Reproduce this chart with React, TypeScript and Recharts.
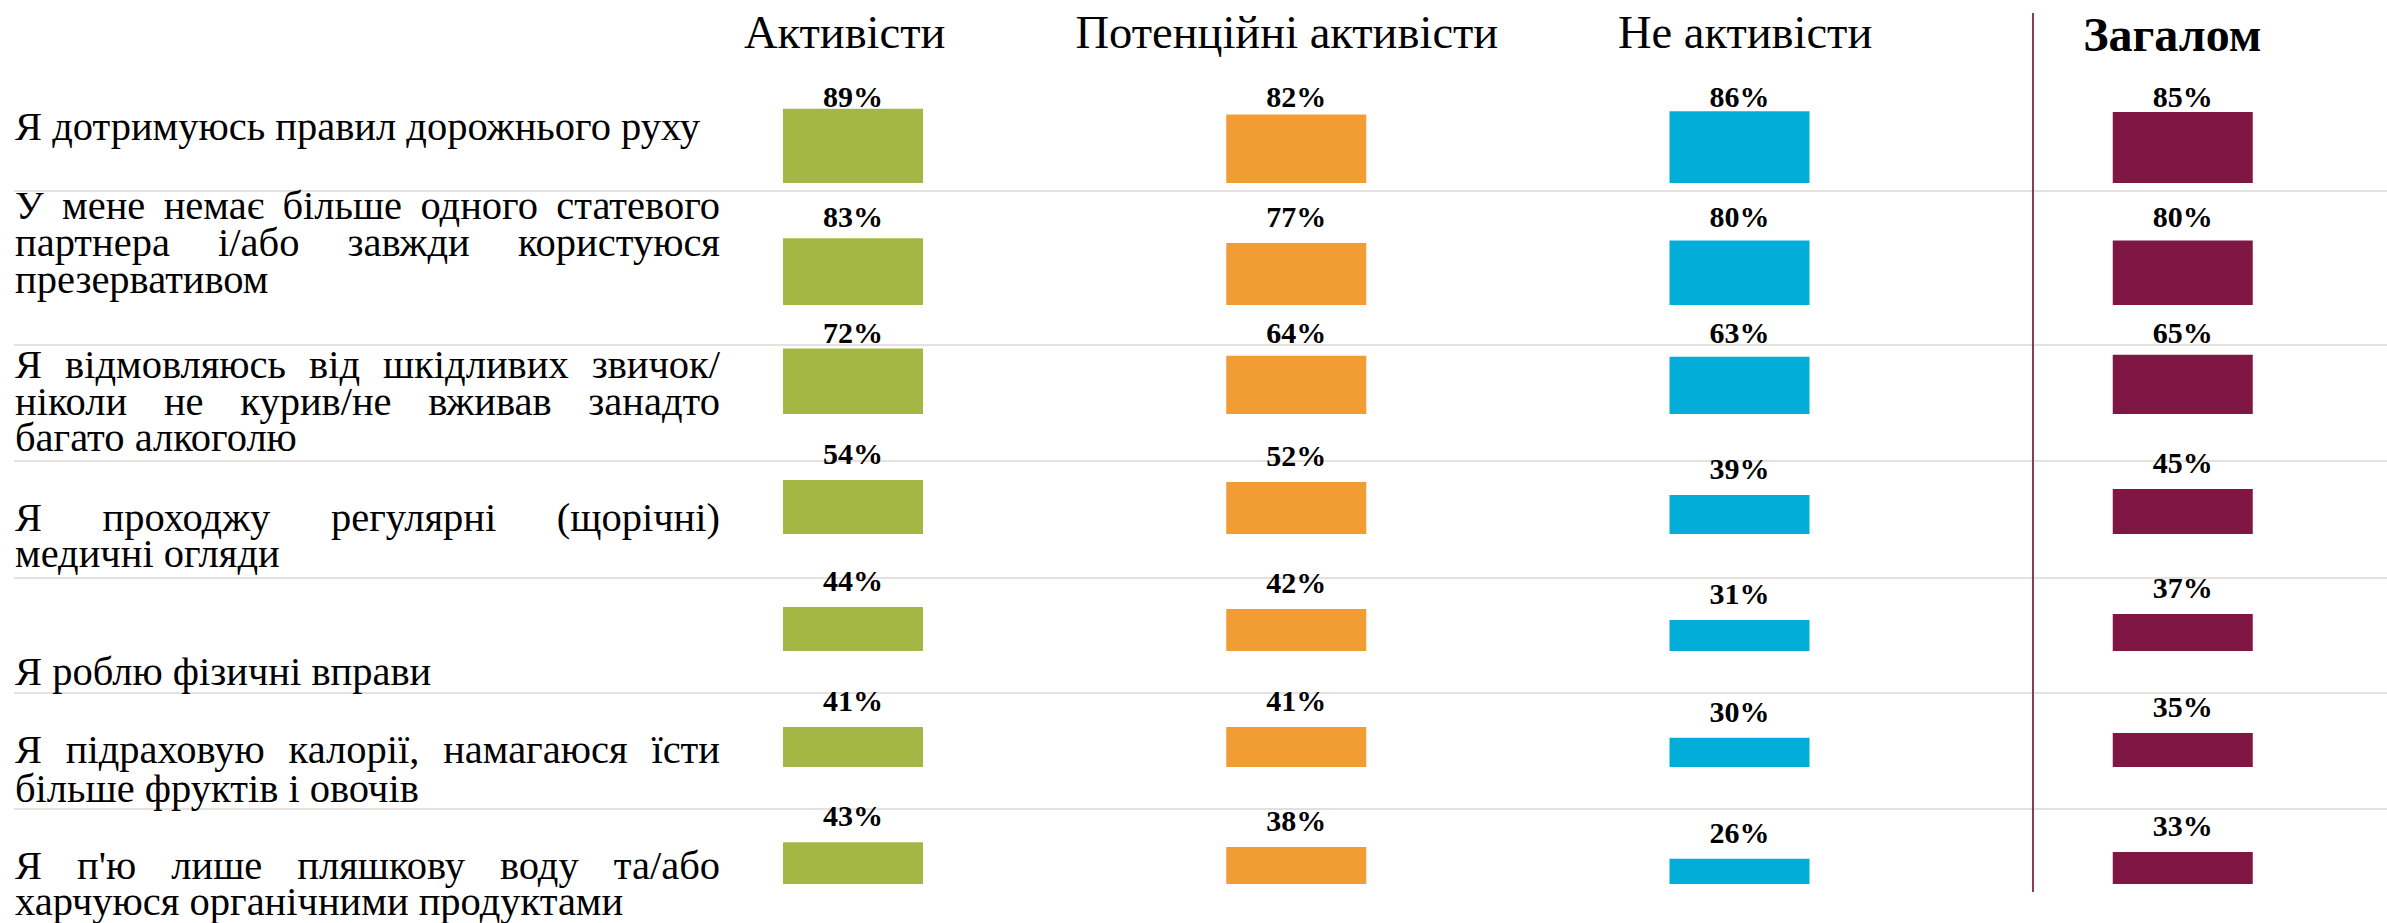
import React from 'react';
import { BarChart, Bar, XAxis, YAxis, Cell, LabelList } from 'recharts';

const groups = ['Активісти', 'Потенційні активісти', 'Не активісти', 'Загалом'];
const categories = [
  'Я дотримуюсь правил дорожнього руху',
  'У мене немає більше одного статевого\nпартнера і/або завжди користуюся\nпрезервативом',
  'Я відмовляюсь від шкідливих звичок/\nніколи не курив/не вживав занадто\nбагато алкоголю',
  'Я проходжу регулярні (щорічні)\nмедичні огляди',
  'Я роблю фізичні вправи',
  'Я підраховую калорії, намагаюся їсти\nбільше фруктів і овочів',
  "Я п'ю лише пляшкову воду та/або\nхарчуюся органічними продуктами",
];
const activists = [89, 83, 72, 54, 44, 41, 43];
const potentialActivists = [82, 77, 64, 52, 42, 41, 38];
const nonActivists = [86, 80, 63, 39, 31, 30, 26];
const total = [85, 80, 65, 45, 37, 35, 33];
const colors = ['#A4B644', '#F19D34', '#02AED9', '#7F1644'];

// layout per row: bar baseline (px), px per percent, fixed label baseline (optional), text first baseline, line height
const rowLayout = [
  { base: 183, k: 0.835, labelY: 107, textBase: 140, lh: 37 },
  { base: 305, k: 0.805, labelY: 227, textBase: 219, lh: 37 },
  { base: 414, k: 0.91, labelY: 343, textBase: 379, lh: 36.5 },
  { base: 534, k: 1.0, textBase: 532, lh: 36 },
  { base: 651, k: 1.0, textBase: 685, lh: 37 },
  { base: 767, k: 0.973, textBase: 763, lh: 39 },
  { base: 884, k: 0.972, textBase: 880, lh: 36 },
];
const separators = [191, 345, 461, 578, 693, 809];
const headerDx = [-8, -9, 6, -10];

const FONT = '"Liberation Serif", "DejaVu Serif", serif';
const TEXT_SIZE = 40.5;
const CHART_LEFT = 631;
const CHART_WIDTH = 1773;

function rowData(i: number) {
  const series = [activists, potentialActivists, nonActivists, total];
  return groups.map((g, gi) => ({ group: g, value: series[gi][i] }));
}

const HeaderTick = (props: any) => {
  const { x, payload, index } = props;
  const bold = index === 3;
  return (
    <text
      x={Number(x) + (headerDx[index] || 0)}
      y={bold ? 51 : 48}
      textAnchor="middle"
      fontFamily={FONT}
      fontSize={bold ? 48 : 46.5}
      fontWeight={bold ? 700 : 400}
      fill="#000"
    >
      {payload.value}
    </text>
  );
};

function Row({ i }: { i: number }) {
  const L = rowLayout[i];
  const plotH = 100 * L.k;
  const topSpace = L.base - plotH;
  const first = i === 0;
  const renderLabel = (p: any) => {
    const { x, y, width, value } = p;
    const ly = L.labelY !== undefined ? L.labelY : Number(y) - 16;
    return (
      <text
        x={Number(x) + Number(width) / 2}
        y={ly}
        textAnchor="middle"
        fontFamily={FONT}
        fontSize={30}
        fontWeight={700}
        fill="#000"
      >
        {value}%
      </text>
    );
  };
  return (
    <div style={{ position: 'absolute', left: CHART_LEFT, top: 0 }}>
      <BarChart
        width={CHART_WIDTH}
        height={L.base}
        data={rowData(i)}
        margin={{ top: first ? 0 : topSpace, right: 0, bottom: 0, left: 0 }}
      >
        {first ? (
          <XAxis
            dataKey="group"
            orientation="top"
            height={topSpace}
            axisLine={false}
            tickLine={false}
            interval={0}
            tick={<HeaderTick />}
          />
        ) : (
          <XAxis dataKey="group" hide />
        )}
        <YAxis hide domain={[0, 100]} />
        <Bar dataKey="value" barSize={140} isAnimationActive={false}>
          {groups.map((g, gi) => (
            <Cell key={g} fill={colors[gi]} />
          ))}
          <LabelList dataKey="value" content={renderLabel} />
        </Bar>
      </BarChart>
    </div>
  );
}

export default function App() {
  return (
    <div
      style={{
        position: 'absolute',
        left: 0,
        top: 0,
        width: 2387,
        height: 923,
        overflow: 'hidden',
        background: '#fff',
        fontFamily: FONT,
      }}
    >
      {separators.map((y) => (
        <div
          key={y}
          style={{ position: 'absolute', left: 14, top: y - 1, width: 2373, height: 2, background: '#e4e1de' }}
        />
      ))}
      <div style={{ position: 'absolute', left: 2032, top: 13, width: 2, height: 879, background: '#8a3a5c' }} />
      {categories.map((c, i) => {
        const L = rowLayout[i];
        const lines = c.split('\n');
        const off = (L.lh - 1.107 * TEXT_SIZE) / 2 + 0.891 * TEXT_SIZE;
        return (
          <div
            key={i}
            style={{
              position: 'absolute',
              left: 15,
              top: L.textBase - off,
              width: 705,
              fontSize: TEXT_SIZE,
              lineHeight: `${L.lh}px`,
              color: '#000',
            }}
          >
            {lines.map((ln, li) => (
              <div
                key={li}
                style={{
                  textAlign: li < lines.length - 1 ? 'justify' : 'left',
                  textAlignLast: li < lines.length - 1 ? 'justify' : 'left',
                  whiteSpace: 'nowrap',
                }}
              >
                {ln}
              </div>
            ))}
          </div>
        );
      })}
      {categories.map((c, i) => (
        <Row key={c} i={i} />
      ))}
    </div>
  );
}
